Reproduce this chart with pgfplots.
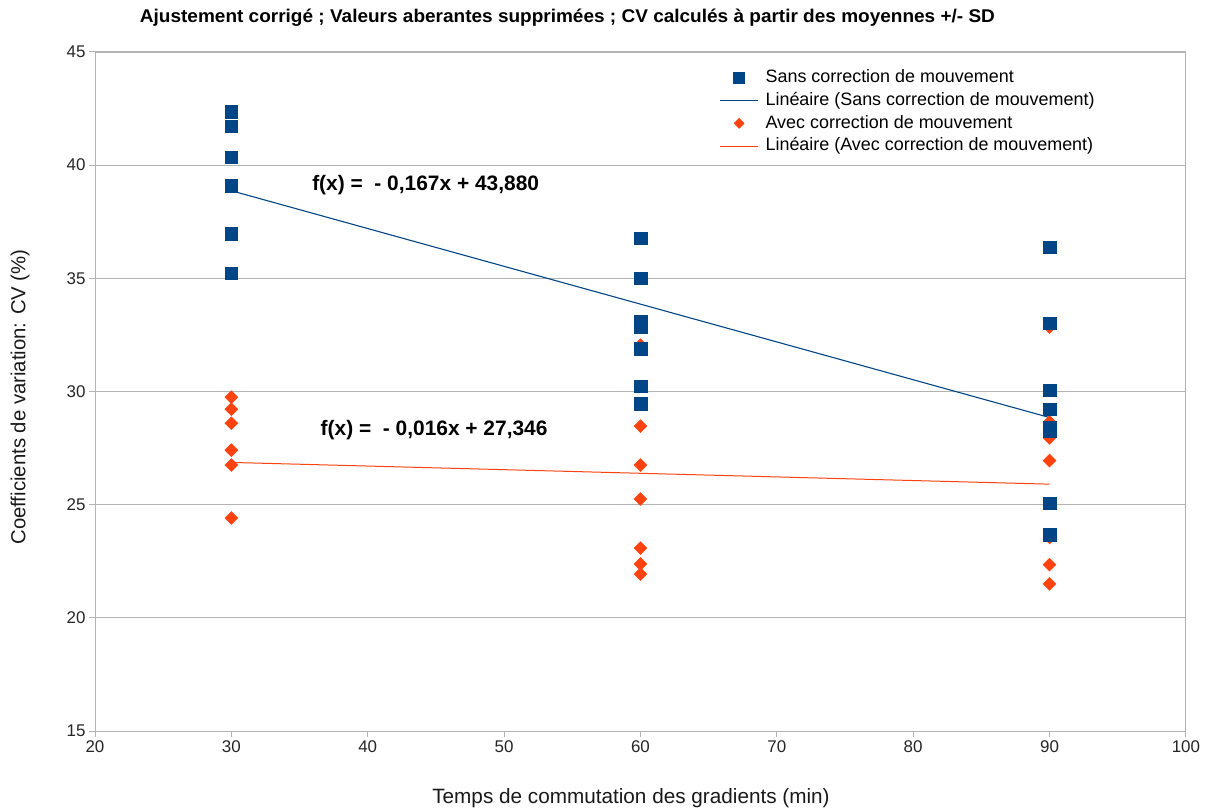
\documentclass[border=0pt]{standalone}
\usepackage{fontspec}
\setmainfont{Liberation Sans}
\usepackage{pgfplots}
\pgfplotsset{compat=1.18}
\usepackage{graphicx}
\definecolor{cblue}{HTML}{004586}
\definecolor{corange}{HTML}{FF420E}
\definecolor{cgrid}{HTML}{B3B3B3}

\pgfplotsset{
  markleg/.style={legend image code/.code={\draw[mark repeat=2,mark phase=2,##1] plot coordinates {(0bp,0bp) (19bp,0bp) (38bp,0bp)};}},
  bluemarkleg/.style={legend image code/.code={\draw[mark repeat=2,mark phase=2,##1,mark size=5.5bp] plot coordinates {(0bp,0bp) (19bp,0bp) (38bp,0bp)};}},
  lineleg/.style={legend image code/.code={\draw[##1] (0bp,0bp) -- (38bp,0bp);}},
}

\pgfplotstableread{
x y
30 42.35
30 41.73
30 40.36
30 39.08
30 36.96
30 35.23
60 36.78
60 35.01
60 33.11
60 32.85
60 31.88
60 30.24
60 29.45
90 36.38
90 33.02
90 30.06
90 29.22
90 28.43
90 28.25
90 25.07
90 23.66
}\sansdata

\pgfplotstableread{
x y
30 29.75
30 29.22
30 28.60
30 27.41
30 26.75
30 24.41
60 32.05
60 28.47
60 26.75
60 25.25
60 23.08
60 22.38
60 21.93
90 32.85
90 28.65
90 27.95
90 26.95
90 23.55
90 22.35
90 21.50
}\avecdata

\begin{document}
\begin{tikzpicture}
\begin{axis}[
  at={(0,0)}, anchor=south west,
  scale only axis, width=1091bp, height=679bp,
  xmin=20, xmax=100, ymin=15, ymax=45,
  xtick={20,30,...,100}, ytick={15,20,...,45},
  ymajorgrids, grid style={cgrid, line width=0.9bp},
  axis line style={cgrid, line width=1bp},
  tick style={cgrid, line width=1bp},
  tick align=outside, major tick length=6bp,
  xtick pos=bottom, ytick pos=left,
  /pgf/number format/assume math mode=true,
  ticklabel style={font=\fontsize{17}{20}\selectfont, text=black!85},
  legend cell align=left,
  legend style={draw=none, fill=none, at={(0.5723,0.9742)}, anchor=north west,
    inner sep=0pt, row sep=6.2bp, column sep=7bp, font=\fontsize{18}{21}\selectfont,
    nodes={inner sep=0pt, text height=13bp, text depth=3.5bp}},
  clip=false,
]
% orange marks first (drawn beneath blue squares)
\addplot[only marks, mark=square*, mark size=4.6bp, color=corange,
  mark options={rotate=45, draw=corange, fill=corange}, forget plot] table {\avecdata};

\addplot[only marks, mark=square*, mark size=6.3bp, color=cblue,
  mark options={draw=cblue, fill=cblue}, bluemarkleg]
  table {\sansdata};
\addlegendentry{Sans correction de mouvement}

\addplot[cblue, line width=1.1bp, lineleg]
  coordinates {(30,38.870) (90,28.850)};
\addlegendentry{Linéaire (Sans correction de mouvement)}

\addlegendimage{only marks, mark=square*, mark size=3.6bp, color=corange,
  mark options={rotate=45, draw=corange, fill=corange}, markleg}
\addlegendentry{Avec correction de mouvement}

\addplot[corange, line width=1bp, lineleg]
  coordinates {(30,26.866) (90,25.906)};
\addlegendentry{Linéaire (Avec correction de mouvement)}

\node[font=\fontsize{21}{24}\selectfont\bfseries] at (axis cs:44.25,39.13) {f(x) =~ - 0,167x + 43,880};
\node[font=\fontsize{21}{24}\selectfont\bfseries] at (axis cs:44.87,28.30) {f(x) =~ - 0,016x + 27,346};
\end{axis}

% title
\node at (472.5bp,713bp) {\resizebox{855bp}{13.5bp}{\bfseries Ajustement corrigé ; Valeurs aberantes supprimées ; CV calculés à partir des moyennes +/- SD}};
% axis labels
\node[rotate=90, font=\fontsize{20.4}{23}\selectfont, text=black!90] at (-75bp,334bp) {Coefficients de variation: CV (\%)};
\node[font=\fontsize{20.8}{23}\selectfont, text=black!90] at (536bp,-67bp) {Temps de commutation des gradients (min)};

\pgfresetboundingbox
\path (-95bp,-78bp) rectangle (1114bp,731bp);
\end{tikzpicture}
\end{document}
